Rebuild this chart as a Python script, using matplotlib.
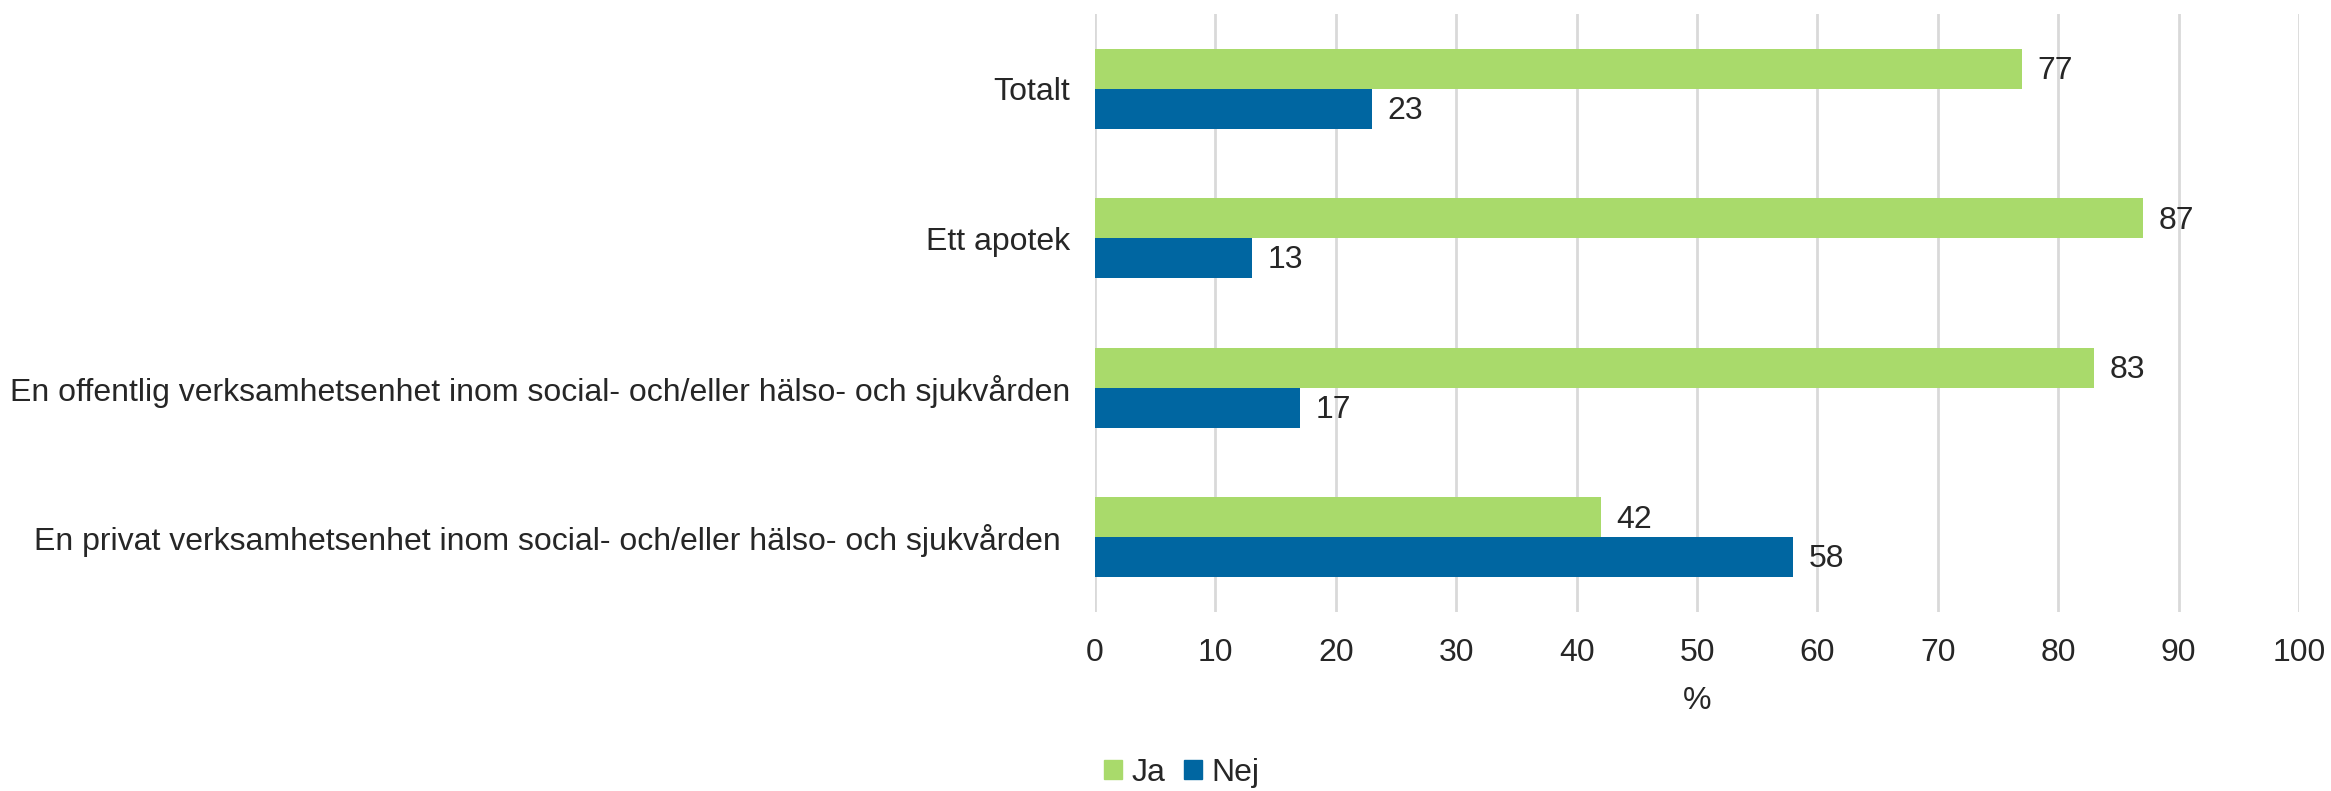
import numpy as np
import matplotlib.pyplot as plt
from matplotlib.patches import Patch

categories = [
    "Totalt",
    "Ett apotek",
    "En offentlig verksamhetsenhet inom social- och/eller hälso- och sjukvården",
    "En privat verksamhetsenhet inom social- och/eller hälso- och sjukvården ",
]
ja = [77, 87, 83, 42]
nej = [23, 13, 17, 58]
xticks = [0, 10, 20, 30, 40, 50, 60, 70, 80, 90, 100]

green = "#A9DA6B"
blue = "#0066A1"
text_color = "#262626"
fs = 23

plt.rcParams["font.family"] = ["Liberation Sans", "DejaVu Sans"]

fig = plt.figure(figsize=(23.31, 7.91), dpi=100)
ax = fig.add_axes([0.4698, 0.2263, 0.5165, 0.756])

y = np.arange(len(categories))
h = 0.267
bars_ja = ax.barh(y - h / 2, ja, height=h, color=green, zorder=3)
bars_nej = ax.barh(y + h / 2, nej, height=h, color=blue, zorder=3)

for bars, vals in [(bars_ja, ja), (bars_nej, nej)]:
    for b, v in zip(bars, vals):
        ax.text(b.get_width() + 1.3, b.get_y() + b.get_height() / 2 + 0.015, str(v),
                va="center", ha="left", fontsize=fs, color=text_color)

ax.set_ylim(len(categories) - 0.5, -0.5)
ax.set_xlim(0, 100)
ax.set_xticks(xticks)
ax.set_yticks(y)
ax.set_yticklabels(categories)
ax.tick_params(axis="both", length=0, labelsize=fs, labelcolor=text_color)
ax.tick_params(axis="x", pad=19)
ax.tick_params(axis="y", pad=18)
ax.grid(axis="x", color="#D9D9D9", linewidth=2, zorder=0)
for s in ax.spines.values():
    s.set_visible(False)

ax.set_xlabel("%", fontsize=fs, color=text_color, labelpad=13)

handles = [Patch(color=green, label="Ja"), Patch(color=blue, label="Nej")]
fig.legend(handles=handles, loc="center", bbox_to_anchor=(0.507, 0.0228), ncol=2,
           frameon=False, fontsize=fs, handlelength=0.55, handleheight=0.55,
           handletextpad=0.3, columnspacing=0.6, labelcolor=text_color)

fig.savefig("out.png", dpi=100)
